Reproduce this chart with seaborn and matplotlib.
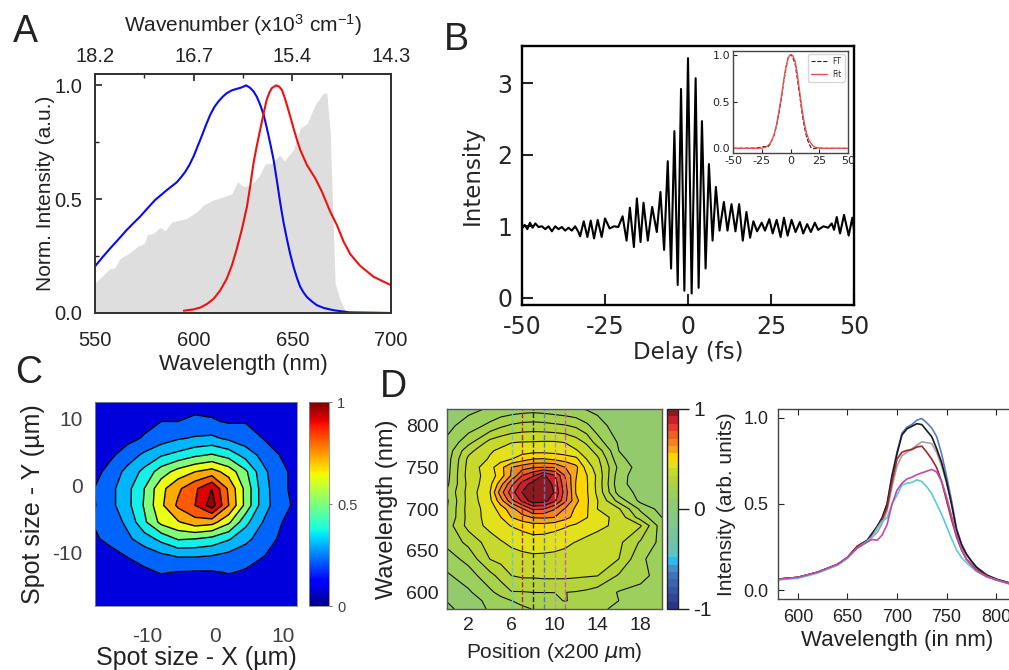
"""
Four panel figure: spectra, autocorrelation, spot map, wavelength-position map
"""
import numpy as np
import pandas as pd
import matplotlib
matplotlib.use("Agg")
import matplotlib.pyplot as plt
from matplotlib.colors import ListedColormap, BoundaryNorm
import seaborn as sns

W, H = 1009, 670

# Panel A
blue_nm = [550, 553.8, 557.6, 561.8, 566, 569.4, 572.8, 576.6, 580.4, 583.4, 586.4, 588.9, 591.4, 593.5, 595.7,
           597.8, 599.9, 601.9, 604, 606.2, 608.4, 610.5, 612.6, 614.7, 616.8, 619.3, 621.9, 624, 626.6, 628.5,
           630.3, 632, 633.7, 635.5, 637.1, 638.8, 640.5, 642.2, 643.9, 645.5, 647.2, 648.9, 650.6, 652.3, 654,
           655.7, 657.4, 660, 662.5, 666, 671, 679, 700]
blue_val = [.205, .245, .283, .323, .364, .394, .423, .46, .496, .518, .54, .557, .574, .595, .62,
            .65, .687, .73, .775, .825, .871, .905, .93, .95, .966, .978, .985, .99, 1.0, .99,
            .974, .95, .915, .87, .812, .745, .673, .58, .482, .40, .327, .26, .203, .155, .115,
            .09, .07, .05, .034, .022, .012, .003, 0]
red_nm = [595, 600, 603.4, 606.8, 610.2, 613.5, 616.8, 619.4, 621.9, 624.5, 627, 628.7, 630.3, 632, 633.7, 635.4,
          637, 638.3, 639.6, 641.8, 643.3, 644.7, 646, 647.2, 648.9, 650.6, 652.3, 654, 657.4, 661.6, 665, 669.2,
          672.6, 676, 679.4, 684.4, 691.2, 700]
red_val = [.01, .016, .024, .04, .063, .10, .151, .21, .283, .37, .467, .56, .658, .735, .805, .875,
           .937, .967, .988, 1.0, .995, .98, .95, .915, .865, .812, .762, .717, .65, .592, .533, .445,
           .386, .313, .258, .207, .159, .122]
gray_nm = [550, 554.2, 557.6, 560, 562.7, 567, 572, 575, 576.6, 579.6, 583, 585.5, 588.9, 596.5, 601.6,
           605, 610, 615.2, 619.3, 622.2, 625.3, 628.7, 633, 636.2, 639.6, 643.5, 645.9, 650.6, 654,
           657.4, 661.6, 665.8, 667.5, 669.2, 670.6, 671.7, 674.3, 677.3, 700]
gray_val = [.132, .166, .195, .198, .239, .261, .295, .305, .345, .349, .376, .361, .40, .415, .445,
            .474, .496, .511, .523, .577, .555, .562, .599, .655, .658, .695, .668, .717, .812,
            .831, .915, .966, .966, .79, .42, .13, .056, 0, 0]
top_ticks = [550, 600, 650, 700]
top_labels = ["18.2", "16.7", "15.4", "14.3"]

# Panel B
delay = [-50, -49.2, -48.4, -47.6, -46.8, -46, -45, -44, -43, -42, -41, -40, -39, -38, -37, -36, -35, -34, -33,
         -32.5, -31.4, -30.3, -29.3, -28.3, -27.2, -26, -25, -23.6, -22.3, -21, -19.7, -18.5, -17.5, -16.3, -15.4,
         -14.3, -13.4, -12.1, -10.8, -9.4, -8.3, -7.2, -6.1, -5.1, -4.1, -3.1, -2.1, -1.1, 0, 1.1, 2.3, 3.2, 4.2,
         5.3, 6.3, 7.4, 8.4, 9.5, 10.8, 11.9, 13.1, 14.3, 15.4, 16.5, 17.6, 18.7, 19.7, 20.8, 22.2, 23.2, 24.5,
         25.5, 26.7, 27.9, 28.9, 30, 31.2, 32.4, 33.7, 34.7, 35.9, 37, 38.2, 39.2, 40.8, 42.2, 43.3, 44, 44.8,
         45.8, 47, 48.4, 49.5, 50]
delay_int = [.97, 1.02, .96, 1.05, .98, 1.04, .99, 1.0, .96, 1.0, .93, 1.0, .96, .99, .94, .98, .94, 1.0, .92,
             .86, 1.07, .85, 1.08, .83, 1.09, .85, 1.11, .97, 1.0, .99, 1.14, .8, 1.26, .71, 1.39,
             .78, 1.33, .8, 1.27, .92, 1.48, .67, 1.91, .41, 2.33, .18, 2.92, .1, 3.35, .06, 3.07, .14, 2.47,
             .41, 1.87, .8, 1.55, .94, 1.34, .94, 1.31, .93, 1.31, .8, 1.2, .84, 1.07, .93, 1.05, .94, 1.1,
             .9, 1.09, .85, 1.12, .87, 1.09, .92, 1.06, .9, 1.03, .92, 1.05, .95, 1.0, .98, 1.04, .95, 1.13,
             .9, 1.16, .87, 1.12, .95]
inset_delay = [-50, -30, -25, -22, -20, -18, -16, -14, -12, -10, -8, -6, -4, -2, 0, 1, 2, 4, 6, 8, 10, 12, 14,
               16, 18, 20, 22, 25, 30, 50]
inset_ft = [0, .003, .015, .02, .01, .04, .09, .15, .25, .38, .53, .70, .85, .97, 1, .99, .97, .90, .74, .56,
            .38, .23, .12, .05, .005, -.005, 0, 0, 0, 0]
inset_fit = [0, 0, .002, .01, .025, .05, .09, .16, .26, .40, .55, .72, .87, .97, 1, 1, .99, .93, .79, .60,
             .42, .27, .16, .09, .05, .02, .01, .003, 0, 0]

# Panel C
spot_x = [-18, -15.5, -13, -10.5, -8, -5.5, -3, -0.5, 2, 4.5, 7, 9.5, 12]
spot_y = [-18, -15.5, -13, -10.5, -8, -5.5, -3, -0.5, 2, 4.5, 7, 9.5, 12.5]
spot_map = [
    [.005, .01, .012, .015, .02, .02, .02, .02, .02, .015, .012, .01, .005],
    [.01, .015, .025, .04, .05, .05, .05, .05, .05, .04, .03, .015, .005],
    [.01, .03, .05, .08, .105, .095, .09, .09, .105, .09, .06, .03, .01],
    [.04, .07, .105, .14, .18, .21, .21, .2, .17, .135, .105, .07, .03],
    [.085, .125, .18, .25, .33, .41, .4, .37, .31, .23, .15, .09, .04],
    [.105, .15, .22, .38, .53, .59, .66, .64, .52, .33, .2, .11, .05],
    [.09, .17, .27, .41, .58, .72, .8, .95, .7, .47, .25, .14, .08],
    [.098, .17, .27, .4, .57, .68, .78, .9, .68, .47, .25, .13, .07],
    [.06, .14, .23, .33, .45, .54, .6, .64, .56, .42, .23, .13, .07],
    [.03, .08, .15, .22, .29, .33, .38, .41, .36, .26, .17, .1, .05],
    [.01, .04, .07, .11, .15, .19, .21, .22, .18, .14, .1, .05, .03],
    [0, .02, .03, .07, .1, .1, .12, .11, .09, .095, .05, .03, .01],
    [0, .01, .02, .03, .04, .05, .06, .06, .05, .04, .03, .02, .01],
]
spot_colors = ["#0000dc", "#0064ff", "#00b4ff", "#14f0e6", "#82ff78", "#ebff14", "#ffaa00", "#ff5a00", "#dc0000",
               "#960000"]

# Panel D map
pos = [0, 2, 4, 5, 6, 7, 8, 9, 10, 11, 12, 13, 14, 16, 18, 20]
wl = [580, 590, 600, 620, 640, 660, 680, 690, 700, 710, 720, 730, 740, 750, 760, 770, 780, 800, 820]
wl_map = [
    [.02, .07, .12, .14, .155, .175, .187, .19, .195, .20, .195, .195, .19, .18, .15, .12],
    [.04, .08, .13, .16, .185, .20, .225, .23, .24, .265, .235, .215, .20, .185, .17, .13],
    [.06, .10, .17, .21, .255, .255, .26, .26, .26, .26, .255, .245, .225, .18, .16, .13],
    [.10, .15, .235, .285, .333, .345, .345, .35, .35, .35, .345, .34, .335, .25, .21, .15],
    [.15, .21, .335, .355, .37, .385, .39, .39, .39, .385, .38, .37, .355, .333, .20, .14],
    [.205, .28, .37, .40, .425, .435, .445, .44, .43, .42, .405, .39, .375, .35, .25, .16],
    [.22, .36, .43, .46, .485, .505, .525, .525, .51, .49, .47, .44, .425, .39, .34, .14],
    [.19, .36, .44, .48, .556, .60, .635, .64, .63, .58, .53, .485, .44, .38, .225, .11],
    [.183, .365, .44, .515, .60, .69, .79, .78, .71, .62, .54, .49, .407, .34, .17, .08],
    [.175, .36, .465, .60, .755, .87, .97, .96, .87, .72, .575, .495, .41, .23, .09, .06],
    [.195, .36, .48, .67, .82, .93, 1.0, .99, .92, .74, .55, .49, .39, .15, .09, .08],
    [.17, .355, .46, .60, .76, .88, .96, 1.0, .90, .72, .55, .49, .385, .13, .08, .07],
    [.16, .365, .44, .52, .64, .78, .84, .94, .86, .70, .56, .485, .39, .14, .07, .06],
    [.155, .36, .455, .53, .63, .67, .70, .705, .70, .63, .575, .45, .37, .165, .075, .06],
    [.15, .35, .415, .45, .48, .52, .556, .56, .54, .52, .50, .405, .35, .13, .07, .06],
    [.14, .31, .40, .42, .44, .45, .455, .455, .45, .44, .415, .37, .30, .11, .065, .06],
    [.125, .235, .36, .385, .405, .41, .412, .415, .415, .405, .37, .32, .22, .10, .065, .06],
    [.09, .145, .205, .245, .27, .285, .29, .285, .275, .265, .245, .20, .145, .07, .06, .06],
    [.06, .09, .12, .13, .14, .15, .155, .15, .14, .13, .12, .105, .09, .07, .06, .06],
]
cut_pos = [6, 7, 8, 9, 10, 11]
cut_colors = ["#5ec8dc", "#a03030", "#222222", "#5a78c8", "#b0a0a0", "#c060b0"]
band_colors = ["#2b3488", "#2f4596", "#3355a5", "#3a64ae", "#3f74b8", "#4a8ccb", "#29bdee", "#5fc4c8", "#6ec3b0",
               "#74c4a2", "#7ac598", "#80c78c", "#86c882", "#8cca76", "#93cb6c", "#9ccf5c", "#a8d14c", "#b5d43a",
               "#c6d92c", "#e2e11c", "#ffd500", "#f9a61a", "#f5821f", "#f05f26", "#e8392b", "#c9202b", "#8b1a1f"]

# Panel D spectra
spec_nm = [580, 600, 620, 640, 650, 660, 670, 675, 680, 685, 690, 695, 700, 705, 710, 715, 720, 725, 730, 735,
           740, 745, 750, 755, 760, 765, 770, 775, 780, 790, 800, 815]
spec_blue = [.065, .075, .105, .15, .19, .255, .29, .33, .37, .42, .50, .67, .80, .91, .945, .96, .985, .995, .97,
             .94, .89, .79, .66, .52, .36, .27, .21, .17, .135, .09, .065, .04]
spec_black = [.065, .075, .105, .15, .19, .255, .29, .33, .37, .42, .50, .66, .79, .90, .935, .95, .965, .96, .925,
              .89, .82, .74, .63, .50, .35, .265, .21, .17, .135, .09, .065, .04]
spec_gray = [.065, .075, .105, .15, .19, .25, .28, .31, .335, .385, .46, .60, .72, .78, .80, .82, .84, .86, .855,
             .85, .80, .72, .62, .50, .34, .26, .205, .165, .13, .09, .065, .04]
spec_red = [.065, .075, .105, .15, .19, .255, .285, .32, .36, .41, .48, .63, .76, .80, .81, .815, .83, .835, .80,
            .76, .71, .63, .52, .41, .31, .235, .18, .15, .12, .085, .062, .04]
spec_magenta = [.065, .075, .105, .15, .19, .245, .28, .295, .29, .32, .38, .50, .58, .62, .645, .655, .67, .68,
                .69, .70, .685, .63, .54, .43, .32, .24, .18, .145, .115, .08, .06, .035]
spec_cyan = [.06, .07, .10, .145, .185, .245, .285, .31, .36, .40, .42, .50, .55, .61, .62, .625, .64, .63, .60,
             .56, .50, .44, .37, .30, .235, .19, .16, .135, .11, .08, .06, .035]


def px_axes(fig, left, top, right, bottom):
    """
    Add an axes from pixel edges measured on the image
    """
    return fig.add_axes([left / W, 1 - bottom / H, (right - left) / W, (bottom - top) / H])


def set_spines(ax, color, width):
    for spine in ax.spines.values():
        spine.set_color(color)
        spine.set_linewidth(width)
        spine.set_visible(True)


def plot_panel_a(fig):
    ax = px_axes(fig, 95, 74, 391, 313)
    ax.fill_between(gray_nm, gray_val, color="#dedede", linewidth=0)
    sns.lineplot(x=blue_nm, y=blue_val, color="#0a0aee", lw=1.5, ax=ax)
    sns.lineplot(x=red_nm, y=red_val, color="#f01010", lw=1.5, ax=ax)
    ax.set_xlim(550, 700)
    ax.set_ylim(0, 1.05)
    ax.set_xticks(top_ticks)
    ax.set_xticks([575, 625, 675], minor=True)
    ax.set_yticks([0, 0.5, 1.0])
    ax.set_yticks([0.25, 0.75], minor=True)
    ax.tick_params(axis="x", which="major", direction="in", length=5, width=1.2, labelsize=14.5,
                   colors="#222222", pad=13)
    ax.tick_params(axis="y", which="major", direction="in", length=5, width=1.2, labelsize=14.5,
                   colors="#222222", pad=9)
    ax.tick_params(which="minor", direction="in", length=3, width=1.0, colors="#222222")
    ax.set_xlabel("Wavelength (nm)", fontsize=16, labelpad=3, color="#222222")
    ax.set_ylabel("Norm. Intensity (a.u.)", fontsize=15, labelpad=0, color="#222222")
    top = ax.twiny()
    top.set_xlim(550, 700)
    top.set_xticks(top_ticks)
    top.set_xticklabels(top_labels)
    top.set_xticks([575, 625, 675], minor=True)
    top.tick_params(which="major", direction="in", length=5, width=1.2, labelsize=14.5, colors="#222222", pad=6)
    top.tick_params(which="minor", direction="in", length=3, width=1.0, colors="#222222")
    top.set_xlabel("Wavenumber (x10$^{3}$ cm$^{-1}$)", fontsize=15, labelpad=11, color="#222222")
    set_spines(ax, "#333333", 1.3)
    set_spines(top, "#333333", 1.3)


def plot_panel_b(fig):
    ax = px_axes(fig, 522, 46, 854, 305)
    sns.lineplot(x=delay, y=delay_int, color="black", lw=1.5, solid_joinstyle="round", ax=ax)
    ax.set_xlim(-50, 50)
    ax.set_ylim(-0.1, 3.52)
    ax.set_xticks([-50, -25, 0, 25, 50])
    ax.set_yticks([0, 1, 2, 3])
    ax.tick_params(direction="in", length=8, width=1.5, pad=7)
    for label in ax.get_xticklabels() + ax.get_yticklabels():
        label.set_fontfamily("DejaVu Sans")
        label.set_fontsize(17)
    ax.set_xlabel("Delay (fs)", fontsize=16.5, family="DejaVu Sans", labelpad=2)
    ax.set_ylabel("Intensity", fontsize=16.5, family="DejaVu Sans", labelpad=10)
    set_spines(ax, "black", 1.7)

    inset = px_axes(fig, 733, 51, 848, 153)
    inset.set_facecolor("white")
    frame = pd.DataFrame({"delay": inset_delay, "FT": inset_ft, "Fit": inset_fit})
    sns.lineplot(data=frame, x="delay", y="FT", color="#222222", lw=0.8, ls="--", label="FT", ax=inset)
    sns.lineplot(data=frame, x="delay", y="Fit", color="#f05050", lw=1.0, label="Fit", ax=inset)
    inset.set_xlim(-50, 50)
    inset.set_ylim(-0.05, 1.04)
    inset.set_xticks([-50, -25, 0, 25, 50])
    inset.set_yticks([0, 0.5, 1.0])
    inset.set_xlabel("")
    inset.set_ylabel("")
    inset.tick_params(direction="in", length=3, width=0.8, pad=2, labelsize=8)
    for label in inset.get_xticklabels() + inset.get_yticklabels():
        label.set_fontfamily("DejaVu Sans")
    inset.legend(loc="upper right", borderpad=0.4, handlelength=2.0, labelspacing=0.5,
                 borderaxespad=0.4, prop={"family": "DejaVu Sans", "size": 5.5})
    set_spines(inset, "#444444", 1.0)


def plot_panel_c(fig):
    ax = px_axes(fig, 95, 402, 297, 606)
    levels = np.arange(0, 1.01, 0.1)
    ax.contourf(spot_x, spot_y, spot_map, levels=levels, colors=spot_colors)
    ax.contour(spot_x, spot_y, spot_map, levels=levels[1:-1], colors="black", linewidths=1.0)
    ax.set_xlim(-17.8, 12.1)
    ax.set_ylim(-18, 12.4)
    ax.set_xticks([-10, 0, 10])
    ax.set_yticks([-10, 0, 10])
    ax.tick_params(axis="x", direction="in", length=2, width=0.5, labelsize=15, colors="#404040", pad=15)
    ax.tick_params(axis="y", direction="in", length=2, width=0.5, labelsize=15, colors="#404040", pad=9)
    ax.set_xlabel("Spot size - X (µm)", fontsize=18, labelpad=0, color="#222222")
    ax.set_ylabel("Spot size - Y (µm)", fontsize=18, labelpad=5, color="#222222")
    set_spines(ax, "#888888", 0.6)

    cax = px_axes(fig, 309, 402, 329, 606)
    mappable = plt.cm.ScalarMappable(cmap="jet", norm=plt.Normalize(0, 1))
    bar = fig.colorbar(mappable, cax=cax, ticks=[0, 0.5, 1])
    bar.ax.set_yticklabels(["0", "0.5", "1"])
    bar.ax.tick_params(length=2, width=0.5, labelsize=10.5, colors="#404040", pad=4)
    bar.outline.set_edgecolor("#888888")
    bar.outline.set_linewidth(0.6)


def plot_panel_d(fig):
    ax = px_axes(fig, 447, 409, 662, 609)
    levels = np.linspace(-1, 1, 28)
    cmap = ListedColormap(band_colors)
    norm = BoundaryNorm(levels, cmap.N)
    filled = ax.contourf(pos, wl, wl_map, levels=levels, cmap=cmap, norm=norm)
    ax.contour(pos, wl, wl_map, levels=levels[14:-1], colors="#111111", linewidths=0.8)
    for x_cut, color in zip(cut_pos, cut_colors):
        ax.axvline(x_cut, color=color, lw=1.0, ls="--")
    ax.set_xlim(0, 20)
    ax.set_ylim(580, 820)
    ax.set_xticks([2, 6, 10, 14, 18])
    ax.set_yticks([600, 650, 700, 750, 800])
    ax.tick_params(direction="in", length=4, width=0.8, labelsize=14, colors="#222222", pad=6)
    ax.tick_params(top=True, right=True)
    ax.set_xlabel("Position (x200 $\\mathit{\\mu}$m)", fontsize=15, labelpad=5, color="#222222")
    ax.set_ylabel("Wavelength (nm)", fontsize=17, labelpad=6, color="#222222")
    set_spines(ax, "#555555", 1.0)

    cax = px_axes(fig, 667, 409, 678, 609)
    bar = fig.colorbar(filled, cax=cax, ticks=[-1, 0, 1], spacing="proportional")
    bar.ax.set_yticklabels(["-1", "0", "1"])
    bar.ax.minorticks_off()
    bar.ax.tick_params(length=8, width=1.0, labelsize=15, colors="#222222", pad=3)
    bar.outline.set_edgecolor("#222222")
    bar.outline.set_linewidth(1.0)


def plot_panel_e(fig):
    ax = px_axes(fig, 778, 409, 1016, 599)
    series = {
        "blue": spec_blue, "gray": spec_gray, "black": spec_black,
        "red": spec_red, "cyan": spec_cyan, "magenta": spec_magenta,
    }
    palette = {"blue": "#5a78c8", "gray": "#a8a0a0", "black": "#1a1a1a",
               "red": "#a02828", "cyan": "#5ec8dc", "magenta": "#c04aa8"}
    long_df = pd.DataFrame(
        [(name, nm, val) for name, vals in series.items() for nm, val in zip(spec_nm, vals)],
        columns=["cut", "nm", "intensity"],
    )
    sns.lineplot(data=long_df, x="nm", y="intensity", hue="cut", palette=palette, estimator=None,
                 lw=1.2, legend=False, ax=ax)
    ax.set_xlim(580, 820)
    ax.set_ylim(-0.05, 1.05)
    ax.set_xticks([600, 650, 700, 750, 800])
    ax.set_yticks([0, 0.5, 1.0])
    ax.tick_params(direction="in", length=4, width=0.8, labelsize=13, colors="#222222", pad=7)
    ax.tick_params(top=True)
    ax.set_xlabel("Wavelength (in nm)", fontsize=16, labelpad=3, color="#222222")
    ax.set_ylabel("Intensity (arb. units)", fontsize=15, labelpad=5, color="#222222")
    set_spines(ax, "#444444", 1.0)


def main():
    sns.set_theme(style="ticks")
    plt.rcParams["font.family"] = ["Liberation Sans", "DejaVu Sans"]
    plt.rcParams["mathtext.default"] = "regular"
    plt.rcParams["axes.unicode_minus"] = False
    fig = plt.figure(figsize=(W / 100, H / 100), dpi=100)

    plot_panel_a(fig)
    plot_panel_b(fig)
    plot_panel_c(fig)
    plot_panel_d(fig)
    plot_panel_e(fig)

    for letter, x_px, y_px in [("A", 13, 42), ("B", 444, 50), ("C", 15, 383), ("D", 380, 397)]:
        fig.text(x_px / W, 1 - y_px / H, letter, fontsize=27, color="#222222", va="baseline")

    fig.savefig("out.png", dpi=100)


if __name__ == "__main__":
    main()
